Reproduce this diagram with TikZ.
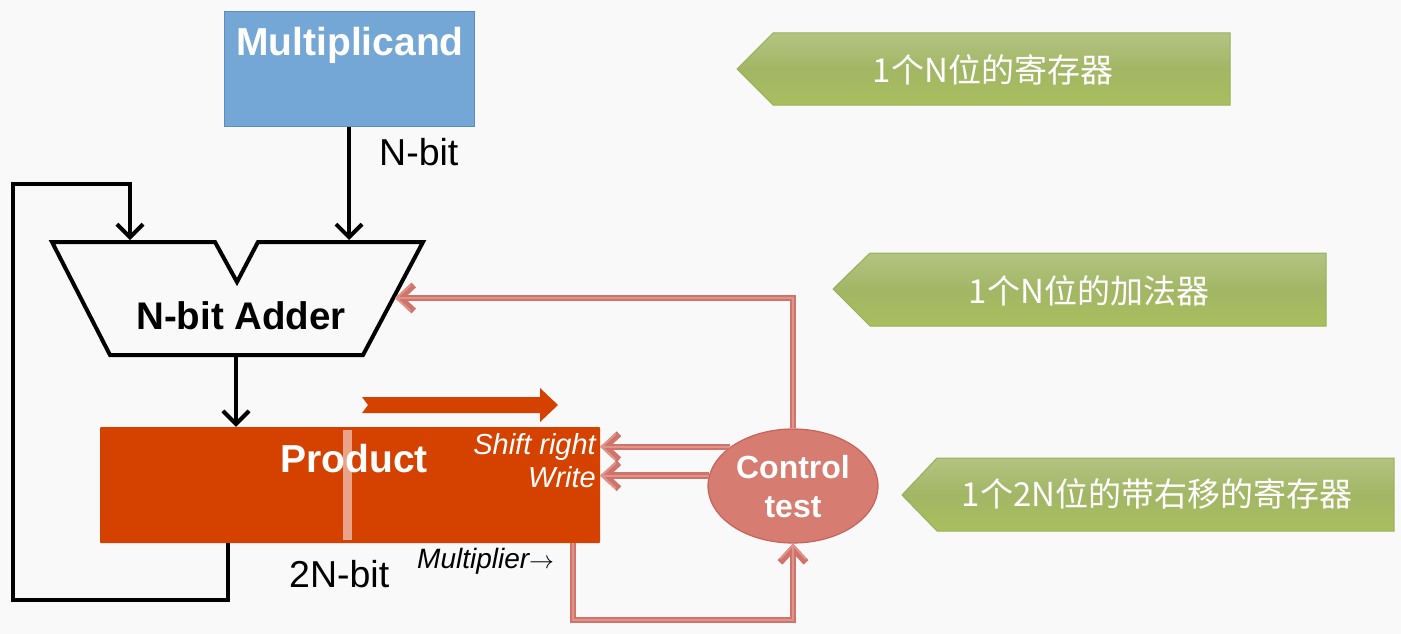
\documentclass[tikz,border=0pt]{standalone}
\usepackage{fontspec}
\setmainfont{Liberation Sans}
\newfontfamily\cjk{Noto Sans CJK SC}
\usetikzlibrary{arrows.meta,shapes.geometric}
\definecolor{bgc}{HTML}{F9F9F9}
\definecolor{mblue}{HTML}{75A7D6}
\definecolor{mblueD}{HTML}{5A8CC2}
\definecolor{prodc}{HTML}{D54200}
\definecolor{stripec}{HTML}{EDB4A0}
\definecolor{ctrlc}{HTML}{D77C70}
\definecolor{ctrlD}{HTML}{C8625A}
\definecolor{salD}{HTML}{D0736A}
\definecolor{salL}{HTML}{E09389}
\definecolor{gB}{HTML}{BCD26A}
\definecolor{gB2}{HTML}{ADC45A}
\definecolor{gM}{HTML}{A3B665}
\definecolor{gT2}{HTML}{B5C787}
\definecolor{gT}{HTML}{D6E2B2}
\definecolor{gD}{HTML}{97B058}
\pgfdeclareverticalshading{greenbar}{100bp}{color(0bp)=(gB); color(8bp)=(gB2); color(50bp)=(gM); color(80bp)=(gT2); color(100bp)=(gT)}
\tikzset{
  blk/.style={line width=4pt, draw=black, -{Straight Barb[length=13pt,width=26pt]}},
  salout/.style={line width=6.5pt, draw=salD, -{Straight Barb[length=14pt,width=26pt]}},
  salin/.style={line width=2pt, draw=salL, -{Straight Barb[length=14pt,width=26pt]}},
  lbl/.style={font=\fontsize{37.5}{40}\selectfont, text=black, inner sep=0pt},
  boldw/.style={font=\bfseries\fontsize{39}{42}\selectfont, text=white, inner sep=0pt},
  gbar/.style={shading=greenbar, draw=gD, line width=1pt},
  gtext/.style={font=\cjk\fontsize{33}{36}\selectfont, text=white, inner sep=0pt},
  itw/.style={font=\itshape\fontsize{29}{32}\selectfont, text=white, inner sep=0pt, anchor=east},
}
\newcommand{\salarrow}[1]{\draw[salout] #1; \draw[salin] #1;}
\begin{document}
\begin{tikzpicture}[x=1pt,y=-1pt]
\fill[bgc] (0,0) rectangle (1401,634);
\useasboundingbox (0,0) rectangle (1401,634);

% Multiplicand
\node[draw=mblueD, fill=mblue, line width=1pt, minimum width=250pt, minimum height=114pt, inner sep=0pt] (mcand) at (349,69) {};
\node[boldw] (mcandlbl) at (350,45) {Multiplicand};
\node[lbl, anchor=west] (nbit) at (379,152) {N-bit};

% Adder
\draw[line width=4pt, line join=miter] (52,242) -- (215,242) -- (237,282) -- (258,242) -- (423,242) -- (363,355) -- (110,355) -- cycle;
\coordinate (adderinL) at (130,240);
\coordinate (adderinR) at (349,240);
\coordinate (adderout) at (236,357);
\coordinate (adderside) at (395,298);
\node[font=\bfseries\fontsize{38.5}{40}\selectfont, inner sep=0pt] (adderlbl) at (241,316) {N-bit Adder};

% Product
\node[fill=prodc, minimum width=500pt, minimum height=116pt, inner sep=0pt, rounded corners=1pt] (product) at (350,485) {};
\fill[stripec, opacity=0.85] (343,430) rectangle (352,540);
\node[boldw] (prodlbl) at (354,459) {Product};
\node[itw] (shiftlbl) at (596,447) {Shift right};
\node[itw] (writelbl) at (596,477) {Write};
\fill[prodc] (362,397) -- (540,397) -- (540,388) -- (558,405) -- (540,422) -- (540,413) -- (362,413) -- (368,405) -- cycle;
\coordinate (pl) at (228,543);
\coordinate (pmul) at (573,543);
\node[lbl, anchor=west] (twonbit) at (289,574) {2N-bit};
\node[font=\itshape\fontsize{28}{30}\selectfont, inner sep=0pt, anchor=west] (multlbl) at (417,561) {Multiplier$\rightarrow$};

% Control
\node[ellipse, draw=ctrlD, fill=ctrlc, line width=1.2pt, minimum width=170pt, minimum height=114pt, inner sep=0pt] (ctrl) at (793,486) {};
\node[font=\bfseries\fontsize{32}{39}\selectfont, text=white, align=center, inner sep=0pt] (ctrllbl) at (793,487) {Control\\test};

% black connectors
\draw[blk] (mcand.south) -- (adderinR);
\draw[blk] (adderout) -- (adderout |- product.north);
\draw[blk] (pl) -- ++(0,57) -- ++(-215,0) -- ++(0,-416) -| (adderinL);

% salmon connectors
\salarrow{(ctrl.north) |- (adderside)}
\salarrow{(ctrl.148) -- (ctrl.148 -| product.east)}
\salarrow{(ctrl.173) -- (ctrl.173 -| product.east)}
\salarrow{(pmul) -- ++(0,77) -| (ctrl.south)}

% green callouts
\path[gbar] (737,69) -- (773,33) -- (1230,33) -- (1230,105) -- (773,105) -- cycle;
\node[gtext] (g1) at (993,70) {1个N位的寄存器};
\path[gbar] (833,289) -- (870,253) -- (1326,253) -- (1326,326) -- (870,326) -- cycle;
\node[gtext] (g2) at (1089,291) {1个N位的加法器};
\path[gbar] (902,495) -- (937,458) -- (1394,458) -- (1394,531) -- (937,531) -- cycle;
\node[gtext] (g3) at (1157,494) {1个2N位的带右移的寄存器};
\end{tikzpicture}
\end{document}
